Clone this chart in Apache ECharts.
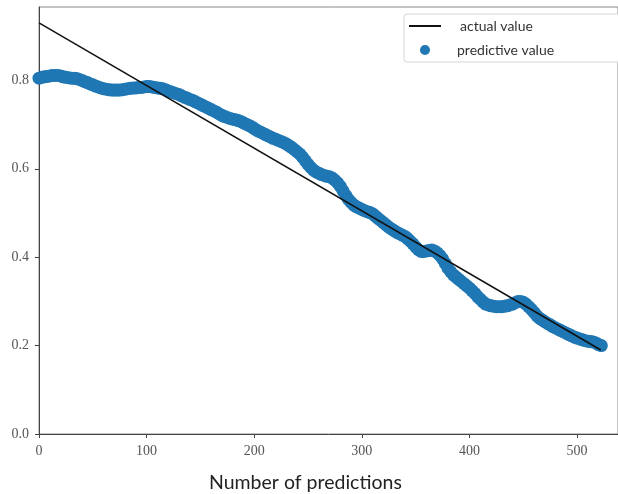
<!DOCTYPE html>
<html>
<head>
<meta charset="utf-8">
<script src="https://cdn.jsdelivr.net/npm/echarts@6/dist/echarts.min.js"></script>
<style>
html,body{margin:0;padding:0;background:#fff;}
#container{width:618px;height:494px;}
</style>
</head>
<body>
<div id="container"></div>
<script>
// actual value: straight line
var actualX = [0, 522];
var actualY = [0.93, 0.19];

// predictive value, every 2.5 predictions (0 .. 522.5)
var predStep = 2.5;
var predY = [
	0.805,0.807,0.808,0.809,0.810,0.811,0.811,0.811,0.810,0.808,0.807,0.806,0.805,0.805,0.804,0.802,0.800,0.797,0.795,0.792,
	0.790,0.787,0.785,0.783,0.781,0.780,0.779,0.778,0.778,0.778,0.778,0.779,0.780,0.781,0.782,0.783,0.783,0.784,0.784,0.785,
	0.786,0.786,0.785,0.784,0.783,0.782,0.781,0.779,0.776,0.774,0.772,0.770,0.768,0.765,0.762,0.760,0.757,0.755,0.752,0.749,
	0.746,0.743,0.740,0.737,0.734,0.731,0.728,0.724,0.721,0.718,0.716,0.714,0.712,0.711,0.709,0.707,0.704,0.701,0.698,0.695,
	0.691,0.687,0.684,0.681,0.678,0.675,0.672,0.669,0.667,0.664,0.662,0.659,0.656,0.652,0.648,0.643,0.638,0.633,0.626,0.618,
	0.610,0.603,0.597,0.593,0.590,0.587,0.585,0.583,0.582,0.579,0.574,0.568,0.560,0.550,0.540,0.531,0.524,0.518,0.514,0.511,
	0.508,0.505,0.503,0.501,0.498,0.493,0.488,0.483,0.478,0.473,0.468,0.464,0.460,0.456,0.453,0.450,0.447,0.442,0.436,0.430,
	0.423,0.417,0.413,0.413,0.414,0.415,0.416,0.414,0.410,0.404,0.396,0.386,0.375,0.367,0.360,0.355,0.350,0.345,0.340,0.335,
	0.330,0.324,0.318,0.311,0.305,0.299,0.294,0.292,0.290,0.289,0.288,0.288,0.288,0.289,0.290,0.292,0.294,0.297,0.300,0.300,
	0.298,0.294,0.288,0.282,0.275,0.268,0.262,0.258,0.254,0.250,0.247,0.243,0.240,0.237,0.234,0.231,0.228,0.225,0.222,0.219,
	0.217,0.215,0.213,0.211,0.210,0.209,0.208,0.206,0.202,0.200];

var xTicks = [0, 100, 200, 300, 400, 500];
var yTicks = [0, 0.2, 0.4, 0.6, 0.8];

var actualData = [];
for (var i = 0; i < actualX.length; i++) actualData.push([actualX[i], actualY[i]]);
var predData = [];
for (var j = 0; j < predY.length; j++) predData.push([j * predStep, predY[j]]);

var myChart = echarts.init(document.getElementById('container'), null, {renderer: 'canvas'});
var tickFont = {fontFamily: 'Liberation Serif', fontSize: 14, color: '#555'};
var legendFont = {fontFamily: 'Lato', fontSize: 14, color: '#333'};

var option = {
	animation: false,
	backgroundColor: '#fff',
	title: {
		text: 'Number of predictions',
		left: 209,
		top: 473,
		padding: 0,
		textStyle: {fontFamily: 'Lato', fontSize: 19.5, fontWeight: 'normal', color: '#222'}
	},
	grid: {
		left: 39, top: 7, right: 0, bottom: 60,
		show: true, borderColor: '#888', borderWidth: 1
	},
	graphic: [{
		type: 'rect',
		shape: {x: 404, y: 14, width: 230, height: 48, r: 3},
		style: {fill: '#fff', stroke: '#d6d6d6', lineWidth: 1},
		z: 10
	}],
	legend: [{
		data: ['actual value'],
		left: 409, top: 19, padding: 0,
		icon: 'rect', itemWidth: 32, itemHeight: 2,
		textStyle: Object.assign({padding: [0, 0, 0, 14]}, legendFont),
		z: 11
	}, {
		data: ['predictive value'],
		left: 420, top: 43, padding: 0,
		icon: 'circle', itemWidth: 10, itemHeight: 10,
		textStyle: Object.assign({padding: [0, 0, 0, 22]}, legendFont),
		z: 11
	}],
	xAxis: {
		type: 'value', min: 0, max: 538,
		splitLine: {show: false},
		axisLine: {lineStyle: {color: '#444'}},
		axisTick: {show: true, length: 4, lineStyle: {color: '#444'}, customValues: xTicks},
		axisLabel: Object.assign({margin: 10, customValues: xTicks}, tickFont)
	},
	yAxis: {
		type: 'value', min: 0, max: 0.966,
		splitLine: {show: false},
		axisLine: {show: true, lineStyle: {color: '#444'}},
		axisTick: {show: true, length: 4, lineStyle: {color: '#444'}, customValues: yTicks},
		axisLabel: Object.assign({margin: 10, customValues: yTicks, formatter: function(v){ return v.toFixed(1); }}, tickFont)
	},
	series: [{
		name: 'predictive value',
		type: 'scatter',
		symbolSize: 13,
		itemStyle: {color: '#1f77b4', opacity: 1},
		data: predData,
		z: 2
	}, {
		name: 'actual value',
		type: 'line',
		showSymbol: false,
		lineStyle: {color: '#111', width: 1.5},
		itemStyle: {color: '#111'},
		data: actualData,
		z: 3
	}]
};

myChart.setOption(option, true);
</script>
</body>
</html>
